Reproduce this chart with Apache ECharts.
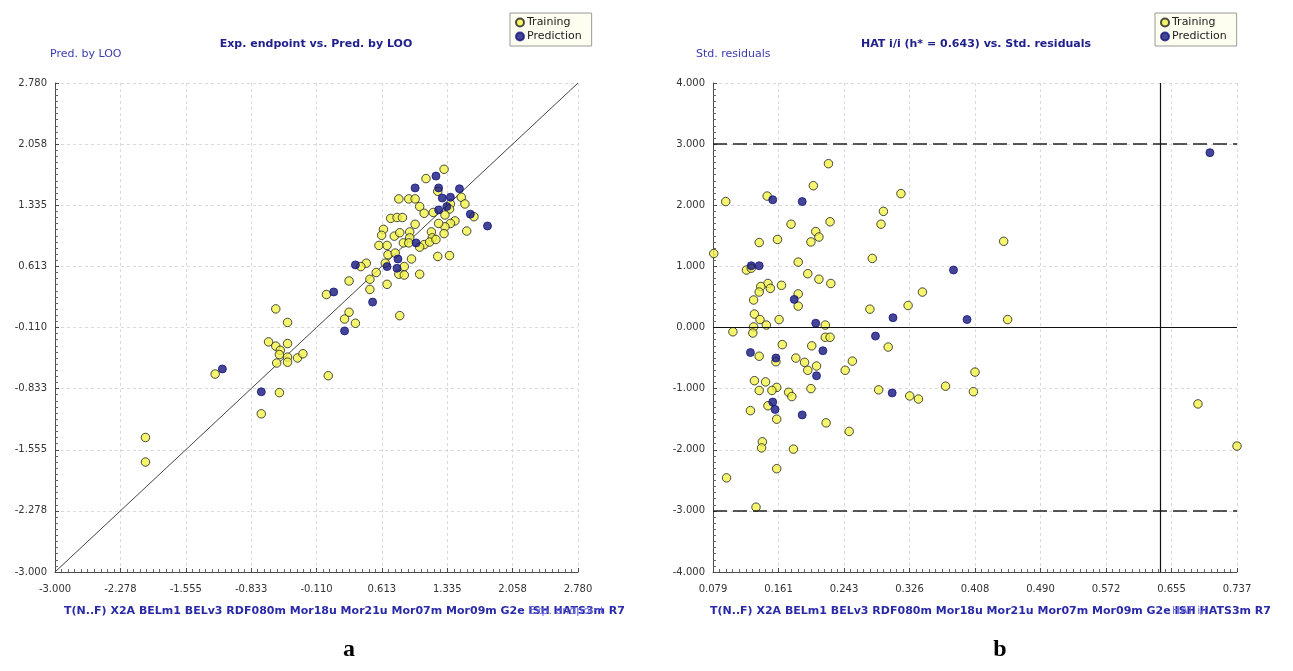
<!DOCTYPE html>
<html><head><meta charset="utf-8">
<script src="https://cdn.jsdelivr.net/npm/echarts@6/dist/echarts.min.js"></script>
<style>html,body{margin:0;padding:0;background:#fff}#c{width:1293px;height:671px}</style>
</head><body><div id="c"></div>
<script>
// ---- tick labels ----
const aTicks = ['-3.000','-2.278','-1.555','-0.833','-0.110','0.613','1.335','2.058','2.780'];
const bXTicks = ['0.079','0.161','0.243','0.326','0.408','0.490','0.572','0.655','0.737'];
const bYTicks = ['-4.000','-3.000','-2.000','-1.000','0.000','1.000','2.000','3.000','4.000'];

// ---- chart a: Exp. endpoint (x) vs Pred. by LOO (y) ----
const aTraining = [
 [1.30,1.76],[1.10,1.65],[0.80,1.41],[0.91,1.41],[0.98,1.41],[1.03,1.32],[1.08,1.24],[1.23,1.50],
 [1.49,1.43],[1.53,1.35],[1.37,1.35],[1.36,1.29],[1.18,1.25],[1.31,1.22],[1.42,1.15],[1.37,1.12],
 [1.31,1.08],[1.24,1.12],[1.63,1.20],[0.71,1.18],[0.78,1.19],[0.84,1.19],[0.98,1.11],[0.63,1.05],
 [0.61,0.98],[0.75,0.97],[0.81,1.01],[0.92,1.02],[0.92,0.95],[1.16,1.02],[1.17,0.95],[1.30,1.00],
 [1.55,1.03],[0.85,0.89],[0.91,0.89],[1.08,0.87],[1.14,0.90],[1.21,0.93],[0.58,0.86],[0.67,0.86],
 [1.03,0.84],[0.68,0.75],[0.76,0.77],[0.94,0.70],[1.23,0.73],[1.36,0.74],[0.44,0.65],[0.65,0.65],
 [0.38,0.61],[0.55,0.54],[0.86,0.61],[0.80,0.52],[0.86,0.51],[1.03,0.52],[0.25,0.44],[0.48,0.46],
 [0.48,0.34],[0.67,0.40],[0.25,0.07],[0.20,-0.01],[0.32,-0.06],[0.81,0.03],[0.00,0.28],
 [-0.56,0.11],[-0.43,-0.05],[-0.64,-0.28],[-0.56,-0.33],[-0.43,-0.30],[-0.51,-0.38],[-0.52,-0.43],
 [-0.43,-0.46],[-0.43,-0.52],[-0.55,-0.53],[-0.32,-0.47],[-0.26,-0.42],[-1.23,-0.66],[0.02,-0.68],
 [-0.52,-0.88],[-0.72,-1.13],[-2.00,-1.41],[-2.00,-1.70]
];
const aPrediction = [
 [1.21,1.68],[0.98,1.54],[1.24,1.54],[1.47,1.53],[1.28,1.42],[1.37,1.43],[1.24,1.28],[1.33,1.32],
 [1.59,1.23],[1.78,1.09],[0.99,0.89],[0.79,0.70],[0.32,0.63],[0.67,0.61],[0.78,0.59],[0.08,0.31],
 [0.51,0.19],[0.20,-0.15],[-1.15,-0.60],[-0.72,-0.87]
];
const aDiagonal = [[-3.0,-3.0],[2.78,2.78]];

// ---- chart b: HAT i/i (x) vs Std. residuals (y) ----
const bTraining = [
 [0.080,1.21],[0.095,2.06],[0.147,2.15],[0.224,2.68],[0.205,2.32],[0.315,2.19],[0.293,1.90],[0.290,1.69],
 [0.177,1.69],[0.226,1.73],[0.208,1.57],[0.212,1.48],[0.202,1.40],[0.160,1.44],[0.137,1.39],[0.279,1.13],
 [0.444,1.41],[0.186,1.07],[0.121,0.94],[0.127,0.97],[0.198,0.88],[0.212,0.79],[0.227,0.72],[0.148,0.72],
 [0.165,0.69],[0.151,0.64],[0.139,0.67],[0.137,0.58],[0.342,0.58],[0.186,0.55],[0.130,0.45],[0.186,0.35],
 [0.324,0.36],[0.276,0.30],[0.131,0.22],[0.138,0.13],[0.162,0.13],[0.449,0.13],[0.146,0.04],[0.220,0.04],
 [0.130,0.01],
 [0.104,-0.07],[0.129,-0.09],[0.220,-0.16],[0.226,-0.16],[0.166,-0.28],[0.203,-0.30],[0.299,-0.32],
 [0.137,-0.47],[0.158,-0.56],[0.183,-0.50],[0.194,-0.57],[0.209,-0.63],[0.198,-0.70],[0.254,-0.55],
 [0.245,-0.70],[0.408,-0.73],[0.371,-0.96],[0.131,-0.87],[0.145,-0.89],[0.159,-0.98],[0.153,-1.03],
 [0.137,-1.03],[0.202,-1.00],[0.174,-1.06],[0.178,-1.13],[0.287,-1.02],[0.326,-1.12],[0.337,-1.17],
 [0.406,-1.05],[0.148,-1.28],[0.126,-1.36],[0.159,-1.50],[0.221,-1.56],[0.250,-1.70],[0.141,-1.87],
 [0.140,-1.97],[0.180,-1.99],[0.159,-2.31],[0.096,-2.46],[0.133,-2.94],[0.688,-1.25],[0.737,-1.94]
];
const bPrediction = [
 [0.703,2.86],[0.154,2.09],[0.191,2.06],[0.127,1.01],[0.137,1.01],[0.381,0.94],[0.181,0.46],[0.305,0.16],
 [0.398,0.13],[0.208,0.07],[0.126,-0.41],[0.158,-0.50],[0.217,-0.38],[0.283,-0.14],[0.209,-0.79],
 [0.304,-1.07],[0.154,-1.22],[0.157,-1.34],[0.191,-1.43]
];
const hStar = 0.643;
const residLimits = [3, -3];

const descriptors = ['T(N..F)','X2A','BELm1','BELv3','RDF080m','Mor18u','Mor21u','Mor07m','Mor09m','G2e','ISH','HATS3m','R7'];

// ---- helpers ----
const FONT = 'DejaVu Sans, Verdana, sans-serif';
function axisFrom(labels){
  const vals = labels.map(Number);
  const min = vals[0], max = vals[vals.length-1];
  return {min, max, interval: (max-min)/(vals.length-1),
    fmt: v => { let bi = 0; for (let i=1;i<vals.length;i++) if (Math.abs(vals[i]-v) < Math.abs(vals[bi]-v)) bi = i; return labels[bi]; }};
}
function makeAxis(labels, gridIndex, isY){
  const a = axisFrom(labels);
  return {
    type:'value', gridIndex, min:a.min, max:a.max, interval:a.interval,
    axisLine:{show:true, onZero:false, lineStyle:{color:'#4a4a4a', width:1}},
    axisTick:{show:true, inside:true, length:4, lineStyle:{color:'#4a4a4a'}},
    minorTick:{show:true, splitNumber:10, length:3, lineStyle:{color:'#666'}},
    minorSplitLine:{show:false},
    splitLine:{show:true, lineStyle:{color:'#dadada', type:[3,3], width:1}},
    axisLabel:{formatter:a.fmt, color:'#333', fontSize:10, fontFamily:FONT, margin: isY ? 8 : 12, showMinLabel:true, showMaxLabel:true}
  };
}
const trainStyle = {color:'#f3f34a', borderColor:'#1e1e1e', borderWidth:1};
const predStyle = {color:'#17177e', borderColor:'#17177e', borderWidth:1};

const chart = echarts.init(document.getElementById('c'), null, {renderer:'canvas'});
const legendBase = {
  data:['Training','Prediction'], orient:'vertical', top:13,
  backgroundColor:'#fdfdf0', borderColor:'#9a9a9a', borderWidth:1, borderRadius:0,
  padding:[4,10,4,5], itemGap:3, itemWidth:8, itemHeight:8,
  textStyle:{fontSize:11, fontFamily:FONT, color:'#222', padding:[0,0,0,-2]}, selectedMode:false
};
function txt(x, y, text, font, fill, align){
  return {type:'text', x, y, silent:true, style:{text, font, fill, align: align||'left', verticalAlign:'middle'}};
}
const descLine = descriptors.join(' ');

chart.setOption({
  animation:false,
  backgroundColor:'#ffffff',
  grid:[
    {left:55, top:83, width:523, height:489, containLabel:false},
    {left:713, top:83, width:524, height:489, containLabel:false}
  ],
  xAxis:[makeAxis(aTicks,0,false), makeAxis(bXTicks,1,false)],
  yAxis:[makeAxis(aTicks,0,true), makeAxis(bYTicks,1,true)],
  legend:[Object.assign({left:510}, legendBase), Object.assign({left:1155}, legendBase)],
  series:[
    {name:'diag', type:'line', xAxisIndex:0, yAxisIndex:0, data:aDiagonal, showSymbol:false, silent:true,
     lineStyle:{color:'#444', width:1}, z:1},
    {name:'Training', type:'scatter', xAxisIndex:0, yAxisIndex:0, data:aTraining, symbol:'circle', symbolSize:8.5, itemStyle:trainStyle, z:3},
    {name:'Prediction', type:'scatter', xAxisIndex:0, yAxisIndex:0, data:aPrediction, symbol:'circle', symbolSize:8, itemStyle:predStyle, z:4},
    {name:'Training', type:'scatter', xAxisIndex:1, yAxisIndex:1, data:bTraining, symbol:'circle', symbolSize:8.5, itemStyle:trainStyle, z:3,
     markLine:{silent:true, symbol:'none', label:{show:false}, animation:false,
       data:[
         {yAxis:0, lineStyle:{color:'#111', width:1.2, type:'solid'}},
         {yAxis:residLimits[0], lineStyle:{color:'#222', width:1.5, type:[14,6]}},
         {yAxis:residLimits[1], lineStyle:{color:'#222', width:1.5, type:[14,6]}},
         {xAxis:hStar, lineStyle:{color:'#111', width:1.2, type:'solid'}}
       ]}},
    {name:'Prediction', type:'scatter', xAxisIndex:1, yAxisIndex:1, data:bPrediction, symbol:'circle', symbolSize:8, itemStyle:predStyle, z:4}
  ],
  graphic:[
    txt(316, 44, 'Exp. endpoint vs. Pred. by LOO', 'bold 11px '+FONT, '#20208c', 'center'),
    txt(976, 44, 'HAT i/i (h* = 0.643) vs. Std. residuals', 'bold 11px '+FONT, '#20208c', 'center'),
    txt(50, 54, 'Pred. by LOO', '11px '+FONT, '#3b3bb0'),
    txt(696, 54, 'Std. residuals', '11px '+FONT, '#3b3bb0'),
    txt(64, 611, descLine, 'bold 11px '+FONT, '#2a2aa8'),
    txt(528, 611, 'Exp. endpoint', '11px '+FONT, '#6b6be0'),
    txt(710, 611, descLine, 'bold 11px '+FONT, '#2a2aa8'),
    txt(1172, 611, 'HAT i/i', '11px '+FONT, '#6b6be0'),
    txt(349, 650, 'a', 'bold 24px Liberation Serif, serif', '#000', 'center'),
    txt(1000, 650, 'b', 'bold 24px Liberation Serif, serif', '#000', 'center')
  ]
});
</script></body></html>
